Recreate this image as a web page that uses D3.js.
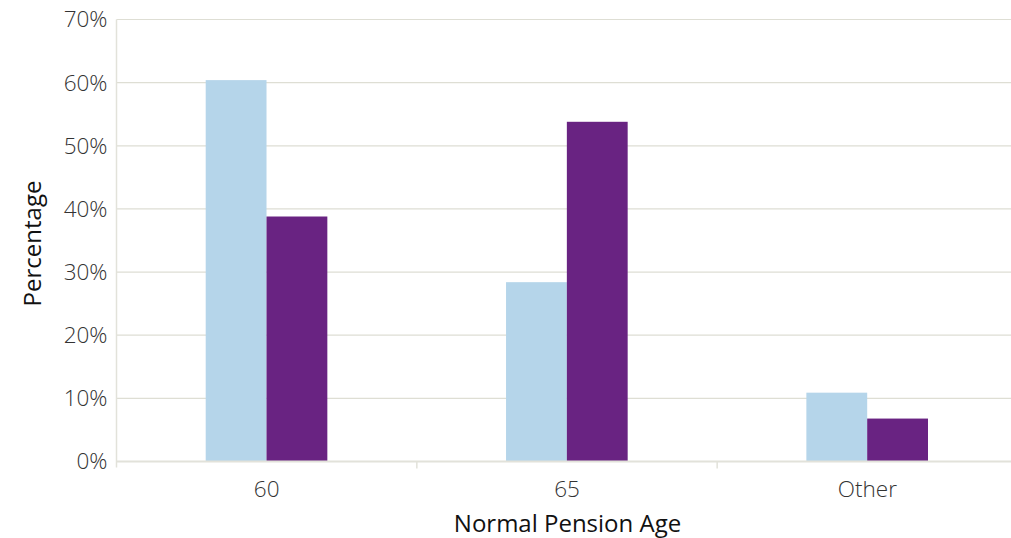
<!DOCTYPE html>
<html>
<head>
<meta charset="utf-8">
<script src="https://cdn.jsdelivr.net/npm/d3@7"></script>
<style>
  html, body { margin: 0; padding: 0; background: #fff; }
  svg { display: block; }
  text { font-family: "Open Sans", "Noto Sans", sans-serif; }
</style>
</head>
<body>
<svg id="chart" width="1011" height="538"></svg>
<script>
// Share of schemes by normal pension age, two series
const categories = ["60", "65", "Other"];
const seriesNames = ["Series A", "Series B"];
const seriesA = [60.4, 28.4, 10.9];
const seriesB = [38.8, 53.8, 6.8];
const yTicks = [0, 10, 20, 30, 40, 50, 60, 70];
const colors = ["#b5d5ea", "#692382"];

const svg = d3.select("#chart");
const margin = { left: 116.5, right: -6.5, top: 19.5, bottom: 76.5 };
const W = 1011, H = 538;
const plotW = W - margin.left - margin.right;
const plotH = H - margin.top - margin.bottom;

const g = svg.append("g").attr("transform", `translate(${margin.left},${margin.top})`);

const x = d3.scaleBand().domain(categories).range([0, plotW]).paddingInner(0).paddingOuter(0);
const xInner = d3.scaleBand().domain(seriesNames).range([x.bandwidth() * 0.297, x.bandwidth() * 0.702]);
const y = d3.scaleLinear().domain([0, 70]).range([plotH, 0]);

// horizontal gridlines
g.append("g").selectAll("line").data(yTicks.filter(t => t > 0)).join("line")
  .attr("x1", 0).attr("x2", plotW)
  .attr("y1", d => y(d)).attr("y2", d => y(d))
  .attr("stroke", "#deded4").attr("stroke-width", 1.2);

// bars
const rows = categories.map((c, i) => ({ cat: c, vals: [seriesA[i], seriesB[i]] }));
const grp = g.append("g").selectAll("g").data(rows).join("g")
  .attr("transform", d => `translate(${x(d.cat)},0)`);
grp.selectAll("rect").data(d => d.vals.map((v, k) => ({ v, k }))).join("rect")
  .attr("x", d => xInner(seriesNames[d.k]))
  .attr("width", xInner.bandwidth())
  .attr("y", d => y(d.v))
  .attr("height", d => plotH - y(d.v))
  .attr("fill", d => colors[d.k]);

// baseline and axis lines
const axisColor = "#e2e2da";
g.append("line").attr("x1", 0).attr("x2", plotW).attr("y1", plotH).attr("y2", plotH)
  .attr("stroke", axisColor).attr("stroke-width", 2);
g.append("line").attr("x1", 0).attr("x2", 0).attr("y1", 0).attr("y2", plotH + 6)
  .attr("stroke", axisColor).attr("stroke-width", 1.5);
// category separator ticks
g.append("g").selectAll("line").data(categories.slice(1)).join("line")
  .attr("x1", d => x(d)).attr("x2", d => x(d))
  .attr("y1", plotH).attr("y2", plotH + 7)
  .attr("stroke", axisColor).attr("stroke-width", 1.5);

// y tick labels
g.append("g").selectAll("text").data(yTicks).join("text")
  .attr("x", -9).attr("y", d => y(d)).attr("dy", "0.35em")
  .attr("text-anchor", "end")
  .attr("font-size", 22.5).attr("font-weight", 300).attr("fill", "#333")
  .text(d => d + "%");

// x tick labels
g.append("g").selectAll("text").data(categories).join("text")
  .attr("x", d => x(d) + x.bandwidth() / 2).attr("y", plotH + 35)
  .attr("text-anchor", "middle")
  .attr("font-size", 22.5).attr("font-weight", 300).attr("fill", "#333")
  .text(d => d);

// axis titles
svg.append("text")
  .attr("x", margin.left + 451).attr("y", 532)
  .attr("text-anchor", "middle")
  .attr("font-size", 24).attr("fill", "#111")
  .text("Normal Pension Age");
svg.append("text")
  .attr("transform", `translate(41,${margin.top + plotH / 2 + 3}) rotate(-90)`)
  .attr("text-anchor", "middle")
  .attr("font-size", 24).attr("fill", "#111")
  .text("Percentage");
</script>
</body>
</html>
